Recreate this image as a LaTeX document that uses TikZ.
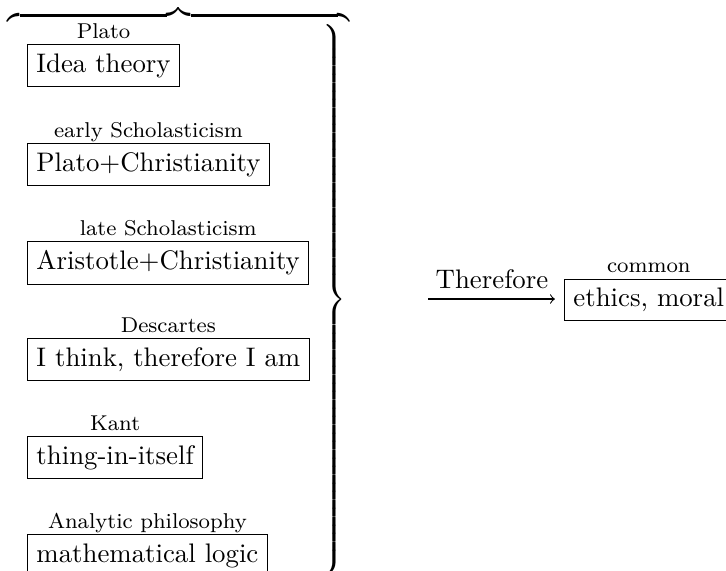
\documentclass[tikz,border=0pt]{standalone}
\usepackage{amsmath}
\usepackage{graphicx}
\tikzset{
  box/.style={draw, line width=0.4pt, inner sep=0.3333em, anchor=north west},
  lbl/.style={font=\footnotesize, anchor=base, inner sep=0pt},
}
\begin{document}
\begin{tikzpicture}[x=0.373pt, y=-0.373pt]
\useasboundingbox (0,0) rectangle (726,570);
% boxes
\node[box] (b1) at (27,44)  {Idea theory};
\node[box] (b2) at (27,143) {Plato+Christianity};
\node[box] (b3) at (27,241) {Aristotle+Christianity};
\node[box] (b4) at (27,338) {I think, therefore I am};
\node[box] (b5) at (27,436) {thing-in-itself};
\node[box] (b6) at (27,534) {mathematical logic};
% labels
\node[lbl] (l1) at ([yshift=2.2pt]b1.north) {Plato};
\node[lbl] (l2) at ([yshift=2.2pt]b2.north) {early Scholasticism};
\node[lbl] (l3) at ([yshift=2.2pt]b3.north) {late Scholasticism};
\node[lbl] (l4) at ([yshift=2.2pt]b4.north) {Descartes};
\node[lbl] (l5) at ([yshift=2.2pt]b5.north) {Kant};
\node[lbl] (l6) at ([yshift=2.2pt]b6.north) {Analytic philosophy};
% braces
\node[inner sep=0pt, anchor=base] (ob) at (179,25) {$\smash{\overbrace{\hbox to 127.6pt{}}}$};
\node[inner sep=0pt, anchor=east] (rb) at (347,300)
  {\scalebox{1}[1.0377]{$\delimitershortfall=0pt\delimiterfactor=1000\left.\vcenter{\hbox{\rule{0pt}{197.5pt}}}\right\}$}};
% result
\node[draw, line width=0.4pt, inner sep=0.3333em, anchor=west] (eth) at (564,300) {ethics, moral};
\node[lbl] (lc) at ([yshift=2.2pt]eth.north) {common};
\coordinate (a0) at (428,299);
\draw[->, line width=0.4pt, shorten >=3.4pt] (a0) -- (a0 -| eth.west);
\node[inner sep=0pt, anchor=base] (tf) at (492,288) {Therefore};
\end{tikzpicture}
\end{document}
